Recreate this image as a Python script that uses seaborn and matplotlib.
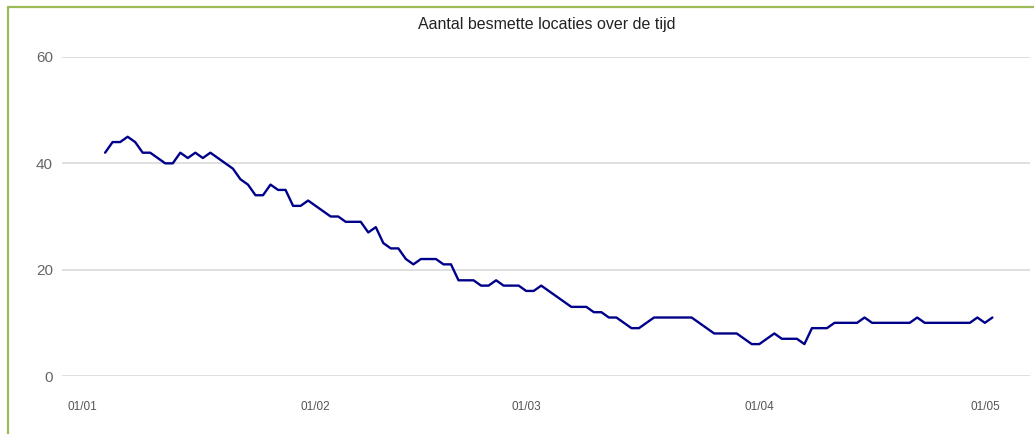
import numpy as np
import pandas as pd
import matplotlib
matplotlib.use('Agg')
import matplotlib.pyplot as plt
import matplotlib.dates as mdates
from matplotlib.lines import Line2D
import seaborn as sns

sns.set_style("white")
plt.rcParams['font.family'] = ['Liberation Sans', 'DejaVu Sans']

# dagelijkse aantallen, vanaf 4 januari 2021
start_datum = '2021-01-04'
aantal_besmet = [42, 44, 44, 45, 44, 42, 42, 41, 40, 40,
                 42, 41, 42, 41, 42, 41, 40, 39, 37, 36,
                 34, 34, 36, 35, 35, 32, 32, 33, 32, 31,
                 30, 30, 29, 29, 29, 27, 28, 25, 24, 24,
                 22, 21, 22, 22, 22, 21, 21, 18, 18, 18,
                 17, 17, 18, 17, 17, 17, 16, 16, 17, 16,
                 15, 14, 13, 13, 13, 12, 12, 11, 11, 10,
                 9, 9, 10, 11, 11, 11, 11, 11, 11, 10,
                 9, 8, 8, 8, 8, 7, 6, 6, 7, 8,
                 7, 7, 7, 6, 9, 9, 9, 10, 10, 10,
                 10, 11, 10, 10, 10, 10, 10, 10, 11, 10,
                 10, 10, 10, 10, 10, 10, 11, 10, 11]
y_ticks = [0, 20, 40, 60]
titel = 'Aantal besmette locaties over de tijd'

datums = pd.date_range(start_datum, periods=len(aantal_besmet), freq='D')
df = pd.DataFrame({'datum': datums, 'aantal': aantal_besmet})

fig = plt.figure(figsize=(10.34, 4.34), dpi=100)
ax = fig.add_axes([62/1034, 58/434, 968/1034, 319/434])

sns.lineplot(data=df, x='datum', y='aantal', color='#00008b', linewidth=1.7, ax=ax)

jan1 = pd.Timestamp('2021-01-01')
ax.set_xlim(jan1 - pd.Timedelta(days=2.73), jan1 + pd.Timedelta(days=126))
ax.set_ylim(0, 60)
ax.set_yticks(y_ticks)
ax.xaxis.set_major_locator(mdates.MonthLocator())
ax.xaxis.set_major_formatter(mdates.DateFormatter('%d/%m'))

ax.grid(axis='y', color='#d9d9d9', linewidth=1.2)
ax.grid(axis='x', visible=False)
ax.set_axisbelow(True)
for s in ax.spines.values():
    s.set_visible(False)
ax.tick_params(axis='y', length=0, labelsize=11, labelcolor='#666666', pad=6.5)
ax.tick_params(axis='x', length=0, labelsize=8.5, labelcolor='#555555', pad=18)
ax.set_xlabel('')
ax.set_ylabel('')

fig.text(547/1034, 1 - 24/434, titel, ha='center', va='center', fontsize=11.5, color='#222222')

# groene rand links en boven
groen = '#9bbb59'
fig.add_artist(Line2D([7.5/1034, 7.5/1034], [0, 1 - 6.7/434], color=groen, linewidth=1.6, transform=fig.transFigure))
fig.add_artist(Line2D([7.5/1034, 1], [1 - 6.7/434, 1 - 6.7/434], color=groen, linewidth=1.6, transform=fig.transFigure))

fig.savefig('out.png', dpi=100)
